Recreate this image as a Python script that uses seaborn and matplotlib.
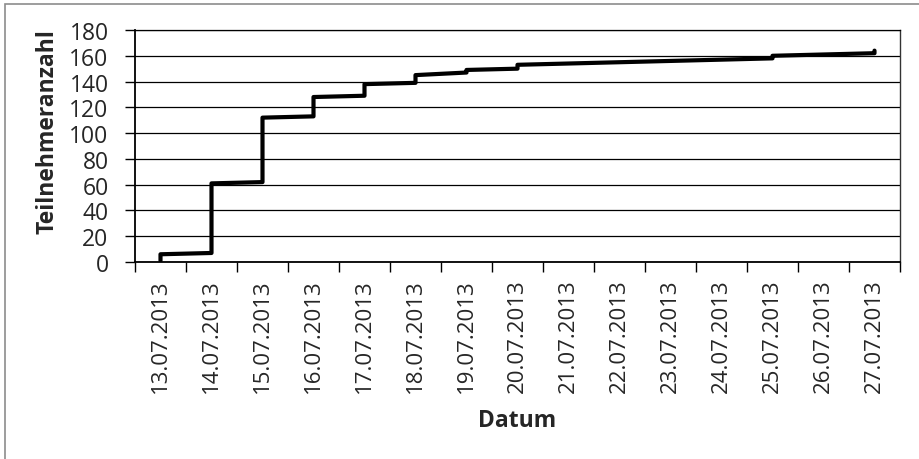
import numpy as np
import pandas as pd
import matplotlib
matplotlib.use('Agg')
import matplotlib.pyplot as plt
import matplotlib.patches as patches
import seaborn as sns

# days of July 2013 on the category axis
day_labels = ['13.07.2013', '14.07.2013', '15.07.2013', '16.07.2013', '17.07.2013',
              '18.07.2013', '19.07.2013', '20.07.2013', '21.07.2013', '22.07.2013',
              '23.07.2013', '24.07.2013', '25.07.2013', '26.07.2013', '27.07.2013']
# days with registrations, with the running total at the first and last entry of that day
reg_days = [13, 14, 15, 16, 17, 18, 19, 20, 25, 26, 27]
first_count = [1, 7, 62, 113, 129, 139, 147, 150, 158, 161, 162]
last_count = [6, 61, 112, 128, 138, 145, 149, 153, 160, 161, 164]

rows = []
for d, a, b in zip(reg_days, first_count, last_count):
    rows.append((d, a))
    rows.append((d, b))
df = pd.DataFrame(rows, columns=['Tag', 'Teilnehmer'])

sns.set_style('white')
plt.rcParams['font.family'] = ['Open Sans', 'DejaVu Sans']

fig = plt.figure(figsize=(9.19, 4.6), dpi=100)
ax = fig.add_axes([135 / 919, 1 - 263 / 460, 765 / 919, 232 / 460])

sns.lineplot(data=df, x='Tag', y='Teilnehmer', sort=False, estimator=None,
             color='black', linewidth=3.0, ax=ax, solid_capstyle='round')

ax.set_xlim(12.5, 27.5)
ax.set_ylim(0, 180)
ax.set_yticks(np.arange(0, 181, 20))
ax.yaxis.grid(True, color='black', linewidth=0.9)
ax.set_axisbelow(True)

ax.set_xticks(range(13, 28))
ax.set_xticklabels(day_labels, rotation=90, fontsize=16, va='top', ha='center')
ax.set_xticks(np.arange(12.5, 28, 1), minor=True)
ax.tick_params(axis='x', which='major', length=0, pad=12)
ax.tick_params(axis='x', which='minor', length=7, width=1, color='black', direction='out', bottom=True)
ax.tick_params(axis='y', which='major', length=7, width=1, color='black', direction='out',
               left=True, labelsize=16.5, pad=12)

for s in ['left', 'bottom']:
    ax.spines[s].set_color('black')
    ax.spines[s].set_linewidth(1.3)
ax.spines['right'].set_color('#333333')
ax.spines['right'].set_linewidth(1)
ax.spines['top'].set_color('black')
ax.spines['top'].set_linewidth(0.9)

ax.set_xlabel('Datum', fontsize=16.5, fontweight='bold', va='center')
ax.xaxis.set_label_coords(0.5, -0.68)
ax.set_ylabel('Teilnehmeranzahl', fontsize=16.5, fontweight='bold', va='center')
ax.yaxis.set_label_coords(-(135 - 48) / 765, 0.567)

# outer chart border (only top and left visible in the picture)
fig.patches.append(patches.Rectangle((4.5 / 919, -0.5), 2, 1.5 - 4.5 / 460, transform=fig.transFigure,
                                     fill=False, edgecolor='#8c8c8c', linewidth=1.2))

fig.savefig('out.png', dpi=100)
